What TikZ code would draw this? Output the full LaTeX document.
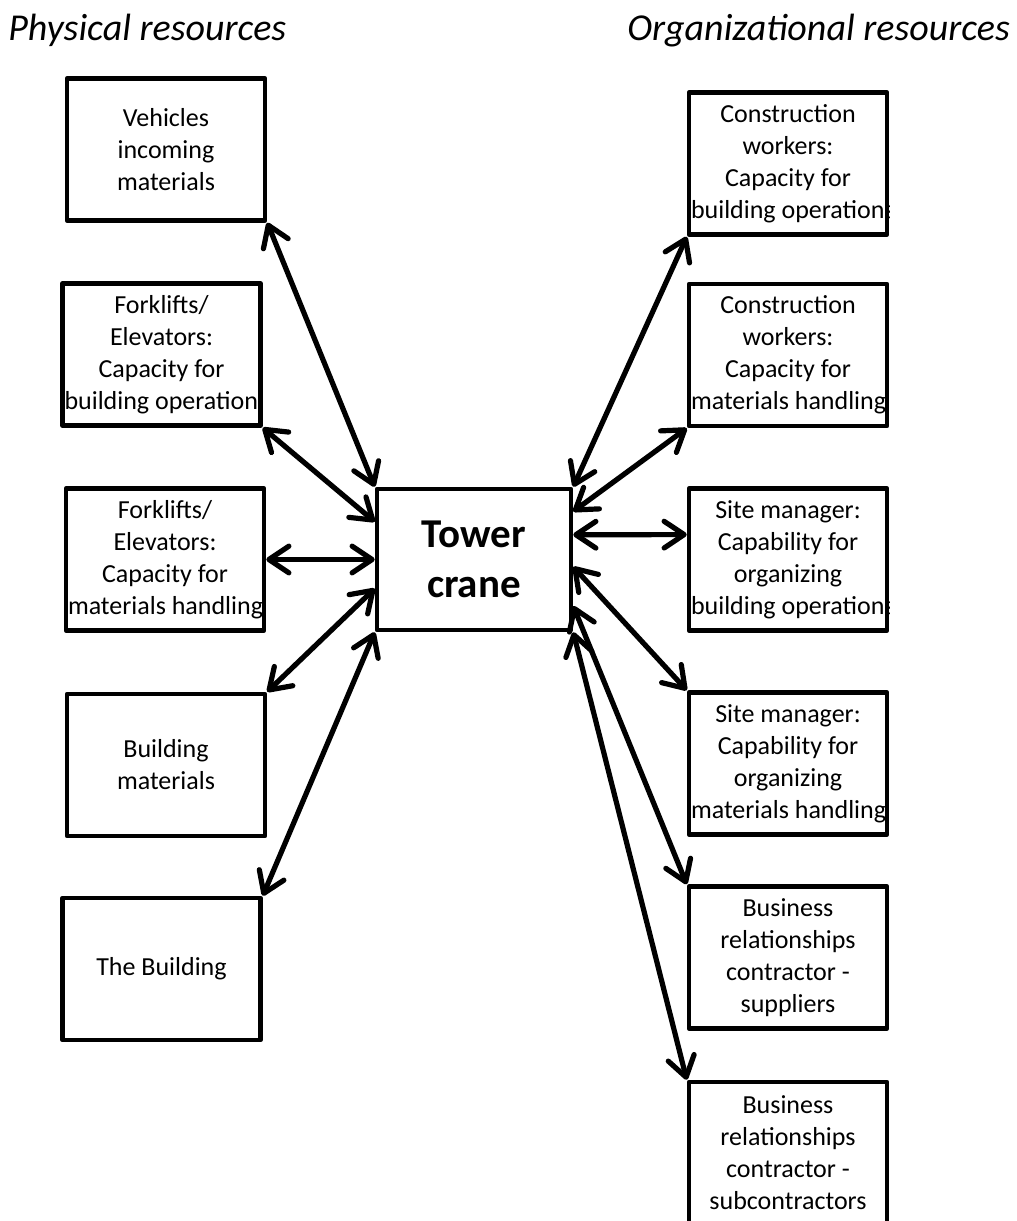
\documentclass[tikz,border=0pt]{standalone}
\usepackage{fontspec}
\setmainfont{Carlito}
\usetikzlibrary{arrows.meta,calc}

% body text of a box, clipped to the inside of its frame
\newcommand\boxlabel[3]{%
  \begin{scope}
    \clip (#1.south west) rectangle (#1.north east);
    \node[boxtext] (#2) at (#1.center) {#3};
  \end{scope}}

\begin{document}
\begin{tikzpicture}[
  x=0.75pt, y=-0.75pt,
  resbox/.style={draw=black, line width=3.4pt, line join=round, fill=white,
    minimum width=148.5pt, minimum height=106.5pt, inner sep=0pt},
  cranebox/.style={resbox, minimum width=145.5pt, minimum height=105.75pt,
    align=flush center, font=\fontsize{30.75}{37.5}\selectfont\bfseries},
  boxtext/.style={inner sep=0pt, text width=145.5pt, align=flush center,
    font=\fontsize{19.5}{24}\selectfont},
  heading/.style={anchor=base west, inner sep=0pt,
    font=\fontsize{28.5}{34}\selectfont\itshape},
  conn/.style={line width=3.9pt,
    >={Straight Barb[length=15pt,width=20pt,round]}, <->}
]
\useasboundingbox (0,0) rectangle (1017,1221);
\clip (0,0) rectangle (1017,1221);

% column headings
\node[heading] (hphys) at (8,40) {Physical resources};
\node[heading] (horg) at (627,40) {Organizational resources};

% central resource
\node[cranebox] (C) at (474,559.5) {Tower\\crane};

% physical resources
\node[resbox] (L1) at (166,149.5) {};
\node[resbox] (L2) at (161.5,354.5) {};
\node[resbox] (L3) at (165,559.5) {};
\node[resbox] (L4) at (166,765) {};
\node[resbox] (L5) at (161.5,969) {};

% organizational resources
\node[resbox] (R1) at (788,163.5) {};
\node[resbox] (R2) at (788,355) {};
\node[resbox] (R3) at (788,559.5) {};
\node[resbox] (R4) at (788,763.5) {};
\node[resbox] (R5) at (788,957.5) {};
\node[resbox] (R6) at (788,1153) {};

\boxlabel{L1}{L1t}{Vehicles\\incoming\\materials}
\boxlabel{L2}{L2t}{Forklifts/\\Elevators:\\Capacity for\\\mbox{building operations}}
\boxlabel{L3}{L3t}{Forklifts/\\Elevators:\\Capacity for\\\mbox{materials handling}}
\boxlabel{L4}{L4t}{Building\\materials}
\boxlabel{L5}{L5t}{The Building}

\boxlabel{R1}{R1t}{Construction\\workers:\\Capacity for\\\mbox{building operations}}
\boxlabel{R2}{R2t}{Construction\\workers:\\Capacity for\\\mbox{materials handling}}
\boxlabel{R3}{R3t}{Site manager:\\Capability for\\organizing\\\mbox{building operations}}
\boxlabel{R4}{R4t}{Site manager:\\Capability for\\organizing\\\mbox{materials handling}}
\boxlabel{R5}{R5t}{Business\\relationships\\contractor -\\suppliers}
\boxlabel{R6}{R6t}{Business\\relationships\\contractor -\\subcontractors}

% links on the physical side
\draw[conn] (L1.south east) -- (C.north west);
\draw[conn] (L2.south east) -- ($(C.north west)!0.24!(C.south west)$);
\draw[conn] (L3.east) -- (C.west);
\draw[conn] (L4.north east) -- ($(C.north west)!0.70!(C.south west)$);
\draw[conn] (L5.north east) -- (C.south west);

% links on the organizational side
\draw[conn] (C.north east) -- (R1.south west);
\draw[conn] ($(C.north east)!0.17!(C.south east)$) -- (R2.south west);
\draw[conn] ($(C.north east)!0.33!(C.south east)$) -- ($(R3.north west)!0.33!(R3.south west)$);
\draw[conn] ($(C.north east)!0.55!(C.south east)$) -- (R4.north west);
\draw[conn] ($(C.north east)!0.82!(C.south east)$) -- (R5.north west);
\draw[conn] (C.south east) -- (R6.north west);
\end{tikzpicture}
\end{document}
